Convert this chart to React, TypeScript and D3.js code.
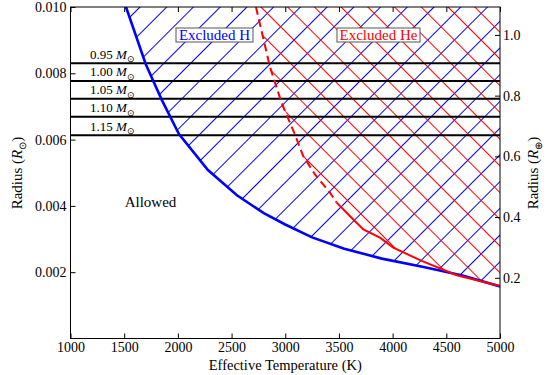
import React, { useRef, useEffect } from 'react';
import * as d3 from 'd3';

// Boundary of the region excluded by hydrogen (Teff in K, radius in R_sun)
const hTeff = [1517, 1700, 1850, 2010, 2280, 2550, 2800, 3000, 3250, 3550, 3900, 4300, 4650, 5000];
const hRadius = [0.0100, 0.00828, 0.00720, 0.00617, 0.00508, 0.00432, 0.00378, 0.00344, 0.00305, 0.00271, 0.00241, 0.00215, 0.00190, 0.00157];

// Boundary of the region excluded by helium
const heTeff = [2727, 2857, 2967, 3084, 3168, 3277, 3416, 3479, 3634, 3727, 3882, 4006, 4271, 4597, 5000];
const heRadius = [0.0100, 0.00820, 0.00710, 0.00620, 0.00550, 0.00495, 0.00440, 0.00410, 0.00359, 0.00329, 0.00304, 0.00274, 0.00234, 0.00191, 0.00158];
const heDashedUntil = 3479;

// Horizontal radius lines for white dwarf masses
const massLabels = ['0.95', '1.00', '1.05', '1.10', '1.15'];
const massRadius = [0.00830, 0.00777, 0.00723, 0.00669, 0.00613];

const xTicks = [1000, 1500, 2000, 2500, 3000, 3500, 4000, 4500, 5000];
const yTicks = [0.002, 0.004, 0.006, 0.008, 0.010];
const earthTicks = [0.2, 0.4, 0.6, 0.8, 1.0];
const REARTH_IN_RSUN = 0.009158;

const W = 553;
const H = 375;
const FONT = 'Liberation Serif';

const App: React.FC = () => {
  const svgRef = useRef<SVGSVGElement>(null);

  useEffect(() => {
    if (!svgRef.current) return;
    const svg = d3.select(svgRef.current);
    svg.selectAll('*').remove();

    const left = 70.5, right = 500, top = 7, bottom = 338.5;
    const x = d3.scaleLinear().domain([1000, 5000]).range([left, right]);
    const y = d3.scaleLinear().domain([0, 0.010]).range([bottom, top]);
    const yE = d3.scaleLinear().domain([0, 0.010 / REARTH_IN_RSUN]).range([bottom, top]);

    const hPts: [number, number][] = hTeff.map((t, i) => [t, hRadius[i]]);
    const hePts: [number, number][] = heTeff.map((t, i) => [t, heRadius[i]]);

    const defs = svg.append('defs');
    const spacing = 18.9;

    // hatch patterns: "/" for H, "\" for He
    const mkPattern = (id: string, angle: number, color: string) => {
      const p = defs.append('pattern')
        .attr('id', id)
        .attr('patternUnits', 'userSpaceOnUse')
        .attr('width', spacing)
        .attr('height', spacing)
        .attr('patternTransform', `rotate(${angle})`);
      p.append('line')
        .attr('x1', spacing / 2).attr('y1', -1)
        .attr('x2', spacing / 2).attr('y2', spacing + 1)
        .attr('stroke', color)
        .attr('stroke-width', 1);
    };
    mkPattern('hatch-h', 45, '#0000ff');
    mkPattern('hatch-he', -45, '#ff0000');

    const toPx = (pts: [number, number][]) => pts.map(d => [x(d[0]), y(d[1])] as [number, number]);

    const hPoly = [...toPx(hPts), [x(5000), y(0.010)], [x(hTeff[0]), y(0.010)]];
    const hePoly = [...toPx(hePts), [x(5000), y(0.010)]];

    defs.append('clipPath').attr('id', 'plot-clip')
      .append('rect')
      .attr('x', left).attr('y', top)
      .attr('width', right - left).attr('height', bottom - top);

    const plot = svg.append('g').attr('clip-path', 'url(#plot-clip)');

    plot.append('path')
      .attr('d', 'M' + hPoly.map(p => p.join(',')).join('L') + 'Z')
      .attr('fill', 'url(#hatch-h)');
    plot.append('path')
      .attr('d', 'M' + hePoly.map(p => p.join(',')).join('L') + 'Z')
      .attr('fill', 'url(#hatch-he)');

    // mass lines
    massRadius.forEach(r => {
      plot.append('line')
        .attr('x1', left).attr('x2', right)
        .attr('y1', y(r)).attr('y2', y(r))
        .attr('stroke', '#000')
        .attr('stroke-width', 2);
    });

    const line = d3.line<[number, number]>().x(d => x(d[0])).y(d => y(d[1]));

    plot.append('path')
      .attr('d', line(hPts))
      .attr('fill', 'none')
      .attr('stroke', '#0000ff')
      .attr('stroke-width', 2.6);

    plot.append('path')
      .attr('d', line(hePts.filter(d => d[0] <= heDashedUntil)))
      .attr('fill', 'none')
      .attr('stroke', '#ff0000')
      .attr('stroke-width', 2)
      .attr('stroke-dasharray', '8,4.5');
    plot.append('path')
      .attr('d', line(hePts.filter(d => d[0] >= heDashedUntil)))
      .attr('fill', 'none')
      .attr('stroke', '#ff0000')
      .attr('stroke-width', 2);

    // mass labels
    massLabels.forEach((m, i) => {
      const t = svg.append('text')
        .attr('x', 90)
        .attr('y', y(massRadius[i]) - 4.5)
        .attr('font-family', FONT)
        .attr('font-size', 13)
        .attr('fill', '#000');
      t.append('tspan').text(m + ' ');
      t.append('tspan').attr('font-style', 'italic').text('M');
      t.append('tspan').attr('dy', 3.5).attr('font-size', 9).text('\u2299');
    });

    // boxed region labels
    const boxLabel = (cx: number, text: string, color: string, w: number) => {
      svg.append('rect')
        .attr('x', cx - w / 2).attr('y', 28)
        .attr('width', w).attr('height', 14)
        .attr('fill', '#fff')
        .attr('stroke', '#555')
        .attr('stroke-width', 1);
      svg.append('text')
        .attr('x', cx).attr('y', 40)
        .attr('text-anchor', 'middle')
        .attr('font-family', FONT)
        .attr('font-size', 15)
        .attr('fill', color)
        .text(text);
    };
    boxLabel(214.5, 'Excluded H', '#0000ff', 77);
    boxLabel(378.5, 'Excluded He', '#ff0000', 83);

    svg.append('text')
      .attr('x', 150.5).attr('y', 207)
      .attr('text-anchor', 'middle')
      .attr('font-family', FONT)
      .attr('font-size', 15)
      .text('Allowed');

    // axes
    const styleAxis = (g: d3.Selection<SVGGElement, unknown, null, undefined>) => {
      g.attr('font-family', FONT).attr('font-size', 14);
      g.select('.domain').remove();
      g.selectAll('line').attr('stroke', '#000');
      g.selectAll('text').attr('fill', '#000');
    };

    svg.append('g')
      .attr('transform', `translate(0,${bottom})`)
      .call(d3.axisBottom(x).tickValues(xTicks).tickFormat(d3.format('d')).tickSize(-5).tickPadding(4))
      .call(styleAxis);

    svg.append('g')
      .attr('transform', `translate(0,${top})`)
      .call(d3.axisTop(x).tickValues(xTicks).tickFormat(() => '').tickSize(-5))
      .call(styleAxis);

    svg.append('g')
      .attr('transform', `translate(${left},0)`)
      .call(d3.axisLeft(y).tickValues(yTicks).tickFormat(d3.format('.3f')).tickSize(-5).tickPadding(4))
      .call(styleAxis);

    svg.append('g')
      .attr('transform', `translate(${right},0)`)
      .call(d3.axisRight(yE).tickValues(earthTicks).tickFormat(d3.format('.1f')).tickSize(-5).tickPadding(3))
      .call(styleAxis);

    // frame
    svg.append('rect')
      .attr('x', left).attr('y', top)
      .attr('width', right - left).attr('height', bottom - top)
      .attr('fill', 'none')
      .attr('stroke', '#000')
      .attr('stroke-width', 1);

    // axis titles
    svg.append('text')
      .attr('x', (left + right) / 2).attr('y', 369.5)
      .attr('text-anchor', 'middle')
      .attr('font-family', FONT)
      .attr('font-size', 14.5)
      .text('Effective Temperature (K)');

    const yTitle = (tx: number, sym: string) => {
      const t = svg.append('text')
        .attr('transform', `translate(${tx},173) rotate(-90)`)
        .attr('text-anchor', 'middle')
        .attr('font-family', FONT)
        .attr('font-size', 15);
      t.append('tspan').text('Radius (');
      t.append('tspan').attr('font-style', 'italic').text('R');
      t.append('tspan').attr('dy', 3.5).attr('font-size', 10).text(sym);
      t.append('tspan').attr('dy', -3.5).text(')');
    };
    yTitle(22, '\u2299');
    yTitle(538, '\u2295');
  }, []);

  return (
    <svg
      ref={svgRef}
      width={W}
      height={H}
      style={{ position: 'absolute', left: 0, top: 0, background: '#fff' }}
    />
  );
};

export default App;
